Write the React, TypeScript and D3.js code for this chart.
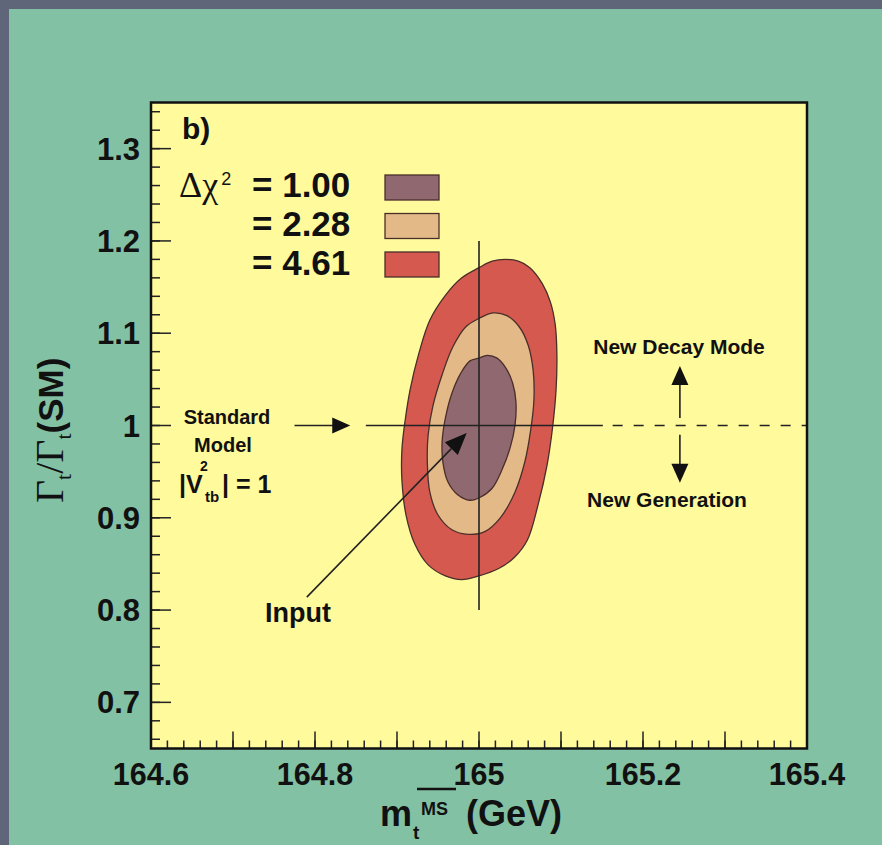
import React from "react";
import * as d3 from "d3";

// ---------- data ----------
const X_DOMAIN: [number, number] = [164.6, 165.4];
const Y_DOMAIN: [number, number] = [0.65, 1.35];
const xTickLabels = [164.6, 164.8, 165, 165.2, 165.4];
const yTickLabels = [0.7, 0.8, 0.9, 1, 1.1, 1.2, 1.3];
const legendLevels = ["= 1.00", "= 2.28", "= 4.61"];

// Δχ² = 4.61 contour
const contour461: [number, number][] = [
  [165.0, 1.171], [165.016, 1.178], [165.032, 1.18], [165.048, 1.178], [165.062, 1.171],
  [165.077, 1.154], [165.087, 1.134], [165.093, 1.109], [165.095, 1.076], [165.094, 1.039],
  [165.09, 1.0], [165.083, 0.957], [165.072, 0.914], [165.059, 0.876], [165.043, 0.857],
  [165.024, 0.845], [165.0, 0.837], [164.979, 0.833], [164.959, 0.837], [164.938, 0.849],
  [164.922, 0.871], [164.911, 0.903], [164.906, 0.941], [164.906, 0.974], [164.91, 1.006],
  [164.916, 1.039], [164.926, 1.076], [164.94, 1.114], [164.959, 1.141], [164.979, 1.16],
];
// Δχ² = 2.28 contour
const contour228: [number, number][] = [
  [165.0, 1.116], [165.017, 1.122], [165.034, 1.119], [165.049, 1.107], [165.06, 1.087],
  [165.066, 1.06], [165.067, 1.028], [165.063, 0.995], [165.056, 0.961], [165.044, 0.928],
  [165.026, 0.9], [165.007, 0.885], [164.987, 0.882], [164.967, 0.887], [164.95, 0.903],
  [164.94, 0.928], [164.937, 0.96], [164.938, 0.99], [164.944, 1.022], [164.955, 1.055],
  [164.968, 1.085], [164.984, 1.107],
];
// Δχ² = 1.00 contour
const contour100: [number, number][] = [
  [165.0, 1.073], [165.01, 1.076], [165.022, 1.073], [165.033, 1.062], [165.041, 1.046],
  [165.045, 1.026], [165.044, 1.001], [165.038, 0.976], [165.028, 0.952], [165.016, 0.932],
  [165.001, 0.922], [164.989, 0.919], [164.974, 0.925], [164.962, 0.939], [164.956, 0.96],
  [164.955, 0.982], [164.959, 1.008], [164.967, 1.035], [164.978, 1.057], [164.989, 1.07],
];

// reference lines / arrows (data coordinates)
const smValue = 1.0;
const inputMass = 165.0;
const verticalLineRange: [number, number] = [0.8, 1.2];
const solidLineRange: [number, number] = [164.862, 165.151];
const dashedLineRange: [number, number] = [165.163, 165.4];
const smArrow: [number, number] = [164.775, 164.843];
const decayArrowX = 165.245;
const upArrow: [number, number] = [1.008, 1.0645];
const downArrow: [number, number] = [0.99, 0.938];
const inputArrow: [[number, number], [number, number]] = [
  [164.79, 0.814],
  [164.985, 0.992],
];

// ---------- style ----------
const COLORS = {
  page: "#60667a",
  panel: "#83c1a4",
  plot: "#fffa9c",
  c100: "#8f6870",
  c228: "#e2b987",
  c461: "#d5594f",
  edge: "#4a2e2a",
};
const SANS = "'Liberation Sans', Arial, Helvetica, sans-serif";
const SERIF = "'Liberation Serif', 'DejaVu Serif', 'Times New Roman', serif";

const W = 882;
const H = 845;
const PLOT = { left: 151, right: 807, top: 102.5, bottom: 748.5 };

export default function App() {
  const x = d3.scaleLinear().domain(X_DOMAIN).range([PLOT.left, PLOT.right]);
  const y = d3.scaleLinear().domain(Y_DOMAIN).range([PLOT.bottom, PLOT.top]);

  const line = d3
    .line<[number, number]>()
    .x((d) => x(d[0]))
    .y((d) => y(d[1]))
    .curve(d3.curveCatmullRomClosed.alpha(0.5));

  const xMajor = d3.range(0, 9).map((i) => 164.6 + i * 0.1);
  const xMinor = d3.range(0, 41).map((i) => 164.6 + i * 0.02);
  const yMajor = d3.range(0, 7).map((i) => 0.7 + i * 0.1);
  const yMinor = d3.range(0, 36).map((i) => 0.66 + i * 0.02).filter((v) => v < 1.35);

  const contours = [
    { pts: contour461, fill: COLORS.c461 },
    { pts: contour228, fill: COLORS.c228 },
    { pts: contour100, fill: COLORS.c100 },
  ];
  const legendFills = [COLORS.c100, COLORS.c228, COLORS.c461];

  const [ia, ib] = inputArrow;
  const iax = x(ia[0]), iay = y(ia[1]), ibx = x(ib[0]), iby = y(ib[1]);
  const ang = Math.atan2(iby - iay, ibx - iax);
  const headL = 22, headW = 9;
  const ibase = [ibx - headL * Math.cos(ang), iby - headL * Math.sin(ang)];
  const inputHead = [
    [ibx, iby],
    [ibase[0] + headW * Math.sin(ang), ibase[1] - headW * Math.cos(ang)],
    [ibase[0] - headW * Math.sin(ang), ibase[1] + headW * Math.cos(ang)],
  ]
    .map((p) => p.join(","))
    .join(" ");

  const ys = y(smValue);
  const ax = x(decayArrowX);

  return (
    <svg
      width={W}
      height={H}
      style={{ position: "fixed", left: 0, top: 0, display: "block" }}
    >
      <rect x={0} y={0} width={W} height={H} fill={COLORS.page} />
      <rect x={9} y={9} width={W - 9} height={H - 9} fill={COLORS.panel} />

      {/* plot area */}
      <rect
        x={PLOT.left}
        y={PLOT.top}
        width={PLOT.right - PLOT.left}
        height={PLOT.bottom - PLOT.top}
        fill={COLORS.plot}
      />

      {/* contours */}
      {contours.map((c, i) => (
        <path key={i} d={line(c.pts) || ""} fill={c.fill} stroke={COLORS.edge} strokeWidth={1.3} />
      ))}

      {/* reference lines */}
      <line
        x1={x(inputMass)}
        x2={x(inputMass)}
        y1={y(verticalLineRange[0])}
        y2={y(verticalLineRange[1])}
        stroke="#222"
        strokeWidth={1.6}
      />
      <line x1={x(solidLineRange[0])} x2={x(solidLineRange[1])} y1={ys} y2={ys} stroke="#222" strokeWidth={1.6} />
      <line
        x1={x(dashedLineRange[0])}
        x2={x(dashedLineRange[1])}
        y1={ys}
        y2={ys}
        stroke="#222"
        strokeWidth={1.6}
        strokeDasharray="10,11"
      />

      {/* SM arrow */}
      <line x1={x(smArrow[0])} x2={x(smArrow[1]) - 16} y1={ys} y2={ys} stroke="#222" strokeWidth={1.6} />
      <polygon
        points={`${x(smArrow[1])},${ys} ${x(smArrow[1]) - 18},${ys - 8} ${x(smArrow[1]) - 18},${ys + 8}`}
        fill="#111"
      />

      {/* decay arrows */}
      <line x1={ax} x2={ax} y1={y(upArrow[0])} y2={y(upArrow[1]) + 16} stroke="#222" strokeWidth={1.6} />
      <polygon
        points={`${ax},${y(upArrow[1])} ${ax - 8.5},${y(upArrow[1]) + 19} ${ax + 8.5},${y(upArrow[1]) + 19}`}
        fill="#111"
      />
      <line x1={ax} x2={ax} y1={y(downArrow[0])} y2={y(downArrow[1]) - 16} stroke="#222" strokeWidth={1.6} />
      <polygon
        points={`${ax},${y(downArrow[1])} ${ax - 8.5},${y(downArrow[1]) - 19} ${ax + 8.5},${y(downArrow[1]) - 19}`}
        fill="#111"
      />

      {/* input arrow */}
      <line x1={iax} y1={iay} x2={ibase[0]} y2={ibase[1]} stroke="#222" strokeWidth={1.6} />
      <polygon points={inputHead} fill="#111" />

      {/* ticks */}
      {xMajor.map((v, i) => (
        <line key={"xM" + i} x1={x(v)} x2={x(v)} y1={PLOT.bottom} y2={PLOT.bottom - 17} stroke="#222" strokeWidth={1.5} />
      ))}
      {xMinor.map((v, i) => (
        <line key={"xm" + i} x1={x(v)} x2={x(v)} y1={PLOT.bottom} y2={PLOT.bottom - 8} stroke="#222" strokeWidth={1.5} />
      ))}
      {yMajor.map((v, i) => (
        <line key={"yM" + i} x1={PLOT.left} x2={PLOT.left + 20} y1={y(v)} y2={y(v)} stroke="#222" strokeWidth={1.5} />
      ))}
      {yMinor.map((v, i) => (
        <line key={"ym" + i} x1={PLOT.left} x2={PLOT.left + 9} y1={y(v)} y2={y(v)} stroke="#222" strokeWidth={1.5} />
      ))}

      {/* frame */}
      <rect
        x={PLOT.left}
        y={PLOT.top}
        width={PLOT.right - PLOT.left}
        height={PLOT.bottom - PLOT.top}
        fill="none"
        stroke="#111"
        strokeWidth={2.5}
      />

      {/* tick labels */}
      {xTickLabels.map((v) => (
        <text
          key={"xl" + v}
          x={x(v)}
          y={785}
          textAnchor="middle"
          fontFamily={SANS}
          fontWeight="bold"
          fontSize={30.5}
          fill="#111"
        >
          {String(v)}
        </text>
      ))}
      {yTickLabels.map((v) => (
        <text
          key={"yl" + v}
          x={140}
          y={y(v) + 11}
          textAnchor="end"
          fontFamily={SANS}
          fontWeight="bold"
          fontSize={31}
          fill="#111"
        >
          {String(v)}
        </text>
      ))}

      {/* x title */}
      <line x1={417} x2={456} y1={789} y2={789} stroke="#111" strokeWidth={2.5} />
      <text x={380} y={826} fontFamily={SANS} fontWeight="bold" fontSize={36} fill="#111">
        m
      </text>
      <text x={413} y={839} fontFamily={SANS} fontWeight="bold" fontSize={19} fill="#111">
        t
      </text>
      <text x={421} y={815} fontFamily={SANS} fontWeight="bold" fontSize={18} fill="#111">
        MS
      </text>
      <text x={466} y={826} fontFamily={SANS} fontWeight="bold" fontSize={36} fill="#111">
        (GeV)
      </text>

      {/* y title */}
      <g transform="translate(63,503) rotate(-90)">
        <text x={0} y={0} fontSize={35} fill="#111">
          <tspan fontFamily={SERIF} fontSize={40}>Γ</tspan>
          <tspan fontFamily={SERIF} fontSize={22} dy={8}>t</tspan>
          <tspan fontFamily={SERIF} fontSize={40} dy={-8}>/Γ</tspan>
          <tspan fontFamily={SERIF} fontSize={22} dy={8}>t</tspan>
          <tspan fontFamily={SANS} fontWeight="bold" dy={-8}>(SM)</tspan>
        </text>
      </g>

      {/* panel label & legend */}
      <text x={182} y={139} fontFamily={SANS} fontWeight="bold" fontSize={30} fill="#111">
        b)
      </text>
      <text x={179} y={197} fontFamily={SERIF} fontSize={36} fill="#111">
        Δχ
        <tspan fontFamily={SANS} fontSize={18} dx={3} dy={-12}>2</tspan>
      </text>
      {legendLevels.map((t, i) => (
        <g key={t}>
          <text x={252} y={197 + i * 39} fontFamily={SANS} fontWeight="bold" fontSize={35} fill="#111">
            {t}
          </text>
          <rect
            x={385}
            y={175 + i * 38.5}
            width={54}
            height={25}
            fill={legendFills[i]}
            stroke={COLORS.edge}
            strokeWidth={1.3}
          />
        </g>
      ))}

      {/* annotations */}
      <text x={227} y={424} textAnchor="middle" fontFamily={SANS} fontWeight="bold" fontSize={20} fill="#111">
        Standard
      </text>
      <text x={223} y={452} textAnchor="middle" fontFamily={SANS} fontWeight="bold" fontSize={20} fill="#111">
        Model
      </text>
      <text x={179} y={493} fontFamily={SANS} fontWeight="bold" fontSize={25} fill="#111">
        |V
      </text>
      <text x={200} y={471} fontFamily={SANS} fontWeight="bold" fontSize={14} fill="#111">
        2
      </text>
      <text x={205} y={502} fontFamily={SANS} fontWeight="bold" fontSize={15} fill="#111">
        tb
      </text>
      <text x={222} y={493} fontFamily={SANS} fontWeight="bold" fontSize={25} fill="#111">
        | = 1
      </text>
      <text x={265} y={622} fontFamily={SANS} fontWeight="bold" fontSize={27} fill="#111">
        Input
      </text>
      <text x={679} y={354} textAnchor="middle" fontFamily={SANS} fontWeight="bold" fontSize={21} fill="#111">
        New Decay Mode
      </text>
      <text x={667} y={507} textAnchor="middle" fontFamily={SANS} fontWeight="bold" fontSize={21} fill="#111">
        New Generation
      </text>
    </svg>
  );
}
